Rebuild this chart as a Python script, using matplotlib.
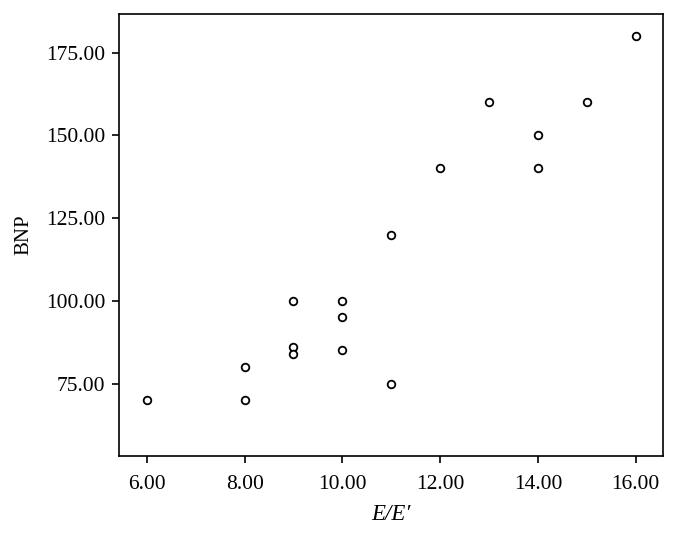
import matplotlib
matplotlib.use("Agg")
import matplotlib.pyplot as plt
from matplotlib.ticker import FormatStrFormatter

plt.rcParams["font.family"] = ["Liberation Serif", "DejaVu Serif"]

# データ
ee_ratio = [6, 8, 8, 9, 9, 9, 10, 10, 10, 11, 11, 12, 13, 14, 14, 15, 16]
bnp = [70, 80, 70, 100, 86, 84, 100, 95, 85, 120, 75, 140, 160, 150, 140, 160, 180]
x_ticks = [6, 8, 10, 12, 14, 16]
y_ticks = [75, 100, 125, 150, 175]

fig = plt.figure(figsize=(6.77, 5.36), dpi=100)
ax = fig.add_axes([0.1758, 0.1493, 0.8035, 0.8246])

ax.scatter(ee_ratio, bnp, s=30, facecolors="white", edgecolors="black", linewidths=1.3, zorder=3)

ax.set_xlim(5.43, 16.56)
ax.set_ylim(53.1, 186.7)
ax.set_xticks(x_ticks)
ax.set_yticks(y_ticks)
ax.xaxis.set_major_formatter(FormatStrFormatter("%.2f"))
ax.yaxis.set_major_formatter(FormatStrFormatter("%.2f"))
ax.tick_params(direction="out", length=5, width=1.2, labelsize=15.5)
ax.tick_params(axis="x", pad=9)
ax.tick_params(axis="y", pad=5)
for sp in ax.spines.values():
    sp.set_linewidth(1.2)

ax.set_xlabel("E/E\u2032", fontsize=16.5, fontstyle="italic", labelpad=7)
ax.set_ylabel("BNP", fontsize=15, labelpad=9)

fig.savefig("out.png", dpi=100)
